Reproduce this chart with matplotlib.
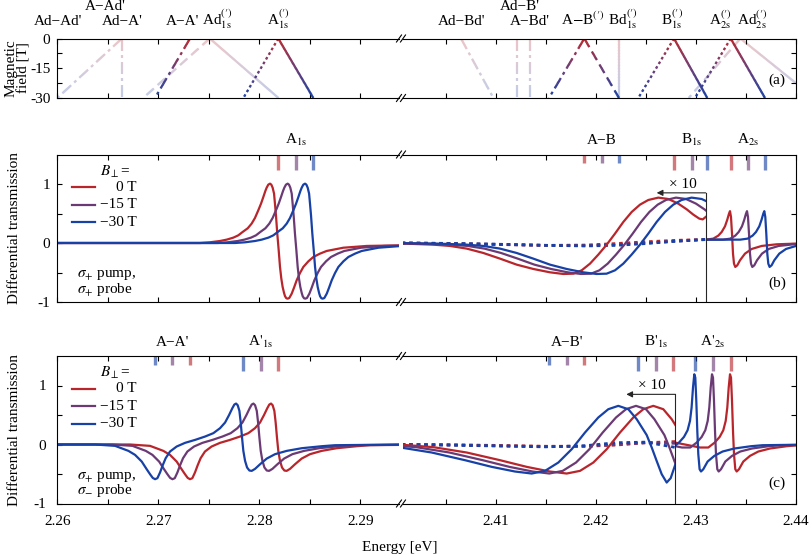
import numpy as np
import matplotlib
matplotlib.use("Agg")
from matplotlib import pyplot as plt
from matplotlib import rcParams
from matplotlib.collections import LineCollection
from matplotlib.patches import Rectangle
from matplotlib.lines import Line2D
from matplotlib.colors import to_rgb

rcParams['font.family'] = ['Liberation Serif', 'DejaVu Serif']
rcParams['mathtext.fontset'] = 'stix'
rcParams['axes.unicode_minus'] = False
rcParams['font.size'] = 11
rcParams['xtick.direction'] = 'in'
rcParams['ytick.direction'] = 'in'
rcParams['xtick.major.size'] = 3.5
rcParams['ytick.major.size'] = 3.5
rcParams['xtick.major.width'] = 0.8
rcParams['ytick.major.width'] = 0.8
rcParams['axes.linewidth'] = 0.8

# ---------------- data ----------------
fields = ['0 T', '\u221215 T', '\u221230 T']
colours = ['#b8262c', '#6b3a75', '#1741a6']      # 0 T, -15 T, -30 T

# panel (a): transition energy at 0 T and at -30 T
a_left_e0 = [2.2664, 2.2664, 2.27314, 2.2751, 2.2751, 2.28188, 2.28188]
a_left_e30 = [2.2600, 2.2664, 2.26967, 2.2685, 2.2819, 2.28535, 2.27842]
a_left_style = ['dashdot', 'dashdot', 'dashdot', 'dashed', 'solid', 'solid', 'dotted']
a_left_faint = [True, True, False, True, True, False, False]
a_right_e0 = [2.40653, 2.4121, 2.41343, 2.41886, 2.41886, 2.4223, 2.42783, 2.42783, 2.4335, 2.4335, 2.43447, 2.43447]
a_right_e30 = [2.40977, 2.4121, 2.41343, 2.41533, 2.42233, 2.4223, 2.43116, 2.42426, 2.43693, 2.42993, 2.44187, 2.4293]
a_right_style = ['dashdot', 'dashdot', 'dashdot', 'dashdot', 'dashed', 'solid', 'solid', 'dotted', 'solid', 'dotted', 'solid', 'dashed']
a_right_faint = [True, True, True, False, False, True, False, False, False, False, True, True]

a_left_labels = ["Ad\u2212Ad'", "A\u2212Ad'", "Ad\u2212A'", "A\u2212A'",
                 r"Ad$_{\mathrm{1s}}^{(\prime)}$", r"A$_{\mathrm{1s}}^{(\prime)}$"]
a_left_label_e = [2.2601, 2.26477, 2.26646, 2.27235, 2.27589, 2.28188]
a_left_label_row = [0, 1, 0, 0, 0, 0]
a_right_labels = ["Ad\u2212Bd'", "Ad\u2212B'", "A\u2212Bd'", r"A$-$B$^{(\prime)}$",
                  r"Bd$_{\mathrm{1s}}^{(\prime)}$", r"B$_{\mathrm{1s}}^{(\prime)}$",
                  r"A$_{\mathrm{2s}}^{(\prime)}$", r"Ad$_{\mathrm{2s}}^{(\prime)}$"]
a_right_label_e = [2.40663, 2.41243, 2.41343, 2.41871, 2.42271, 2.42768, 2.43243, 2.43568]
a_right_label_row = [0, 1, 0, 0, 0, 0, 0, 0]

# panel (b): resonance markers (0 T, -15 T, -30 T)
b_a1s_mark = [2.28188, 2.28363, 2.28535]
b_ab_mark = [2.41886, 2.42060, 2.42233]
b_b1s_mark = [2.42783, 2.42960, 2.43116]
b_a2s_mark = [2.43350, 2.43520, 2.43693]
b_cut = 2.4310

# line shapes: energy offset from the marker, differential transmission
b_a1s_off = [-0.030, -0.00775, -0.00676, -0.00577, -0.00511, -0.00445, -0.00396, -0.00353, -0.00303, -0.00264,
             -0.00231, -0.00198, -0.00171, -0.00148, -0.00128, -0.00115, -0.00099, -0.00082, -0.00069, -0.00056,
             -0.00042, -0.00033, -0.00023, -0.0001, 0.00004, 0.00017, 0.0003, 0.00043, 0.00057, 0.00067,
             0.0008, 0.00093, 0.00109, 0.00133, 0.00156, 0.00182, 0.00215, 0.00248, 0.00298, 0.00347,
             0.00413, 0.00479, 0.00644, 0.00875, 0.0121, 0.016]
b_a1s_val = [0.0, 0.0, 0.012, 0.034, 0.057, 0.091, 0.13, 0.187, 0.249, 0.328,
             0.424, 0.554, 0.667, 0.78, 0.882, 0.938, 0.989, 1.006, 0.989, 0.938,
             0.837, 0.667, 0.469, 0.159, -0.124, -0.406, -0.604, -0.745, -0.847, -0.903,
             -0.937, -0.943, -0.932, -0.858, -0.756, -0.632, -0.508, -0.406, -0.31, -0.237,
             -0.18, -0.135, -0.08, -0.05, -0.04, -0.035]
b_b1s_off = [-0.032, -0.02707, -0.02407, -0.0224, -0.02073, -0.01907, -0.0174, -0.01573, -0.01407, -0.0124,
             -0.01107, -0.01007, -0.00923, -0.0084, -0.00757, -0.00673, -0.0059, -0.00507, -0.00423, -0.0034,
             -0.00257, -0.00157, -0.00057, 0.00043, 0.00127, 0.00193, 0.00253, 0.00287, 0.00317]
b_b1s_val = [0.0, -0.01, -0.028, -0.05, -0.095, -0.169, -0.265, -0.367, -0.44, -0.497,
             -0.525, -0.52, -0.463, -0.35, -0.197, -0.028, 0.159, 0.356, 0.526, 0.65,
             0.729, 0.769, 0.746, 0.667, 0.571, 0.481, 0.413, 0.40, 0.441]
b_a2s_off = [-0.006, -0.00247, -0.00174, -0.00124, -0.0009, -0.00057, -0.00034, -0.00017, -0.00007, 0.00003,
             0.00013, 0.00023, 0.00033, 0.00046, 0.00066, 0.00093, 0.00143, 0.0021, 0.0031, 0.0046, 0.0066]
b_a2s_val = [0.057, 0.057, 0.074, 0.125, 0.187, 0.283, 0.396, 0.498, 0.54, 0.441,
             0.159, -0.18, -0.35, -0.406, -0.378, -0.293, -0.18, -0.101, -0.05, -0.022, -0.01]
b_dot_e = [2.4006, 2.405, 2.410, 2.415, 2.419, 2.422, 2.425, 2.428, 2.431]
b_dot_vals = [[0.0, -0.01, -0.025, -0.04, -0.035, -0.01, 0.02, 0.045, 0.06],
              [0.0, -0.008, -0.022, -0.04, -0.045, -0.03, 0.0, 0.03, 0.058],
              [0.0, -0.006, -0.02, -0.04, -0.05, -0.04, -0.01, 0.03, 0.06]]

# panel (c)
c_aa_mark = [2.27314, 2.27139, 2.26967]
c_a1s_mark = [2.28188, 2.28014, 2.27842]
c_ab_mark = [2.41883, 2.41710, 2.41533]
c_b1s_mark = [2.42776, 2.42603, 2.42426]
c_a2s_mark = [2.43350, 2.43170, 2.42993]
c_cut = 2.42796

c_a1s_off = [-0.030, -0.01468, -0.0127, -0.01138, -0.01072, -0.01006, -0.00957, -0.00924, -0.00897, -0.00874,
             -0.00851, -0.00825, -0.00798, -0.00769, -0.00726, -0.0066, -0.00577, -0.00478, -0.00379, -0.00297,
             -0.00231, -0.00181, -0.00142, -0.00109, -0.00089, -0.00072, -0.00056, -0.00039, -0.00026, -0.00013,
             0.0, 0.00017, 0.00037, 0.0006, 0.00083, 0.00116, 0.00166, 0.00232, 0.00314, 0.0043,
             0.00578, 0.00776, 0.00908, 0.016]
c_a1s_val = [0.0, 0.0, -0.023, -0.108, -0.176, -0.289, -0.419, -0.503, -0.566, -0.588,
             -0.571, -0.475, -0.351, -0.232, -0.119, -0.034, 0.028, 0.078, 0.135, 0.192,
             0.276, 0.372, 0.497, 0.615, 0.677, 0.694, 0.666, 0.57, 0.372, 0.118,
             -0.108, -0.277, -0.39, -0.441, -0.447, -0.413, -0.334, -0.238, -0.164, -0.108,
             -0.063, -0.029, -0.012, 0.0]
c_b1s_off = [-0.032, -0.027, -0.024, -0.02066, -0.01733, -0.01466, -0.01233, -0.01066, -0.00933, -0.008,
             -0.00666, -0.00533, -0.004, -0.003, -0.002, -0.001, -0.00016, 0.00017, 0.00084, 0.00134,
             0.00184, 0.00234, 0.00284, 0.00324, 0.0037]
c_b1s_val = [0.0, -0.006, -0.045, -0.136, -0.266, -0.379, -0.458, -0.492, -0.447, -0.306,
             -0.08, 0.203, 0.458, 0.598, 0.655, 0.598, 0.429, 0.34, 0.16, -0.05,
             -0.28, -0.503, -0.645, -0.57, -0.34]
c_a2s_off = [-0.008, -0.00557, -0.0044, -0.00307, -0.00224, -0.0016, -0.0011, -0.00074, -0.0005, -0.00034,
             -0.0002, -0.00007, 0.00003, 0.00013, 0.00023, 0.00033, 0.00046, 0.0006, 0.00083, 0.00126,
             0.00193, 0.00276, 0.00393, 0.0056, 0.00676, 0.012]
c_a2s_val = [0.033, 0.033, -0.006, -0.051, -0.051, 0.033, 0.129, 0.242, 0.40, 0.627,
             0.966, 1.19, 1.135, 0.74, 0.231, -0.164, -0.419, -0.458, -0.419, -0.289,
             -0.193, -0.119, -0.068, -0.029, -0.012, 0.0]
c_dot_e = [2.4006, 2.405, 2.410, 2.415, 2.419, 2.422, 2.425, 2.428]
c_dot_vals = [[0.0, -0.005, -0.015, -0.03, -0.03, -0.01, 0.03, 0.05],
              [0.0, -0.005, -0.02, -0.035, -0.03, 0.0, 0.03, 0.02],
              [0.0, -0.01, -0.025, -0.04, -0.02, 0.03, 0.04, -0.05]]

# ---------------- layout (pixels) ----------------
W, H = 809, 555
XL0, XL1, XR0, XR1 = 57.3, 398.5, 402.5, 795.7
E_LEFT = (2.26, 2.293782)
E_RIGHT = (2.40068, 2.44)

fig = plt.figure(figsize=(W / 100, H / 100), dpi=100)


def make_row(ytop, ybot, ylim):
    axl = fig.add_axes([XL0 / W, 1 - ybot / H, (XL1 - XL0) / W, (ybot - ytop) / H])
    axr = fig.add_axes([XR0 / W, 1 - ybot / H, (XR1 - XR0) / W, (ybot - ytop) / H])
    axl.set_xlim(*E_LEFT)
    axr.set_xlim(*E_RIGHT)
    for ax in (axl, axr):
        ax.set_ylim(*ylim)
        ax.patch.set_alpha(0)
    axl.spines['right'].set_visible(False)
    axr.spines['left'].set_visible(False)
    axl.tick_params(top=True, right=False, labelbottom=False, pad=5)
    axr.tick_params(top=True, right=True, left=False, labelleft=False, labelbottom=False)
    axl.set_xticks(np.round(np.arange(2.26, 2.2931, 0.005), 3))
    axr.set_xticks(np.round(np.arange(2.405, 2.4401, 0.005), 3))
    # break marks
    for y in (ytop, ybot):
        for cx in (399.0, 403.0):
            fig.add_artist(Line2D([(cx - 2.5) / W, (cx + 2.5) / W], [1 - (y + 3.5) / H, 1 - (y - 3.5) / H],
                                  color='k', lw=0.8, transform=fig.transFigure))
    return axl, axr


def field_colour(t, faint):
    rgb = [np.array(to_rgb(c)) for c in colours]
    if t <= 0.5:
        c = rgb[0] + (rgb[1] - rgb[0]) * t / 0.5
    else:
        c = rgb[1] + (rgb[2] - rgb[1]) * (t - 0.5) / 0.5
    if faint:
        c = c * 0.27 + 0.73
    return tuple(np.clip(c, 0, 1))


DASHES = {'solid': None, 'dotted': [2.7, 2.7], 'dashed': [10, 5], 'dashdot': [12, 4, 3, 4]}


def field_line(ax, e0, e30, style, faint):
    # straight line from (e0, 0 T) to (e30, -30 T), coloured by field
    p0 = ax.transData.transform((e0, 0))
    p1 = ax.transData.transform((e30, -30))
    length = np.hypot(*(p1 - p0))
    pattern = DASHES[style]
    pieces = []
    if pattern is None:
        pieces.append((0.0, length))
    else:
        s, i = 0.0, 0
        while s < length:
            step = pattern[i % len(pattern)]
            if i % 2 == 0:
                pieces.append((s, min(s + step, length)))
            s += step
            i += 1
    segs, cols = [], []
    for a, b in pieces:
        n = max(1, int(np.ceil((b - a) / 1.5)))
        edges = np.linspace(a, b, n + 1)
        for u, v in zip(edges[:-1], edges[1:]):
            t0, t1 = u / length, min(v + 0.4, b) / length
            segs.append([(e0 + (e30 - e0) * t0, -30 * t0), (e0 + (e30 - e0) * t1, -30 * t1)])
            cols.append(field_colour(0.5 * (t0 + t1), faint))
    ax.add_collection(LineCollection(segs, colors=cols, linewidths=1.6, capstyle='butt', zorder=1 if faint else 2))


# ---------------- panel (a) ----------------
axl, axr = make_row(38.5, 98.0, (-30, 0))
for ax in (axl, axr):
    ax.set_yticks([-30, -22.5, -15, -7.5, 0])
axl.set_yticklabels(['-30', '', '-15', '', '0'])
for e0, e30, st, fa in zip(a_left_e0, a_left_e30, a_left_style, a_left_faint):
    field_line(axl, e0, e30, st, fa)
for e0, e30, st, fa in zip(a_right_e0, a_right_e30, a_right_style, a_right_faint):
    field_line(axr, e0, e30, st, fa)
for ax, labs, es, rows in ((axl, a_left_labels, a_left_label_e, a_left_label_row),
                           (axr, a_right_labels, a_right_label_e, a_right_label_row)):
    for lab, e, r in zip(labs, es, rows):
        ax.text(e, 1.227 if r == 0 else 1.487, lab, transform=ax.get_xaxis_transform(),
                ha='center', va='baseline', fontsize=11, clip_on=False)
axr.text(0.952, 0.30, '(a)', transform=axr.transAxes, ha='center', va='center', fontsize=11)
fig.text(17.5 / W, 1 - 68 / H, 'Magnetic\nfield [T]', rotation=90, ha='center', va='center',
         multialignment='center', linespacing=1.05, fontsize=11)


# ---------------- helpers for (b), (c) ----------------
def spectrum(ax, marks, off, val, clip=None):
    for e0, c in zip(marks, colours):
        line, = ax.plot(e0 + np.array(off), val, color=c, lw=1.6, solid_joinstyle='round')
        if clip is not None:
            line.set_clip_path(clip)


def bars(ax, marks, short):
    for e0, c in zip(marks, colours):
        ax.plot([e0, e0], [1, 0.942 if short else 0.898], transform=ax.get_xaxis_transform(),
                color=c, alpha=0.62, lw=2.4, solid_capstyle='butt')


def legend_and_pol(ax, probe):
    ax.text(0.125, 0.883, r'$B_{\perp}$=', transform=ax.transAxes, ha='left', va='center', fontsize=11)
    for k, (lab, c) in enumerate(zip(fields, colours)):
        y = 0.778 - 0.119 * k
        ax.plot([0.042, 0.11], [y, y], transform=ax.transAxes, color=c, lw=1.6)
        ax.text(0.233, y, lab, transform=ax.transAxes, ha='right', va='center', fontsize=11)
    ax.text(0.058, 0.18, r'$\sigma_{+}$ pump,', transform=ax.transAxes, ha='left', va='center', fontsize=11)
    ax.text(0.058, 0.085, probe, transform=ax.transAxes, ha='left', va='center', fontsize=11)


def spectra_row(ytop, ybot, lab_left, lab_right):
    axl, axr = make_row(ytop, ybot, (-1, 1.5))
    for ax in (axl, axr):
        ax.set_yticks([-1, -0.5, 0, 0.5, 1])
    axl.set_yticklabels(['-1', '', '0', '', '1'])
    for ax, labs in ((axl, lab_left), (axr, lab_right)):
        for e, lab in labs:
            ax.text(e, 1.07, lab, transform=ax.get_xaxis_transform(), ha='center', va='baseline',
                    fontsize=11, clip_on=False)
    return axl, axr


def cut_marker(ax, cut):
    ax.plot([cut, cut], [0.85, -1], color='0.15', lw=0.8)
    ax.annotate('', xy=(cut - 0.0049, 0.85), xytext=(cut, 0.85),
                arrowprops=dict(arrowstyle='-|>', color='0.15', lw=0.8, mutation_scale=9,
                                shrinkA=0, shrinkB=0))
    ax.text(cut - 0.0023, 1.0, '\u00d7 10', ha='center', va='center', fontsize=11)


# ---------------- panel (b) ----------------
axl, axr = spectra_row(154.5, 302.0,
                       [(b_a1s_mark[1], r'A$_{\mathrm{1s}}$')],
                       [(b_ab_mark[1], 'A\u2212B'), (b_b1s_mark[1], r'B$_{\mathrm{1s}}$'),
                        (b_a2s_mark[1], r'A$_{\mathrm{2s}}$')])
bars(axl, b_a1s_mark, False)
bars(axr, b_ab_mark, True)
bars(axr, b_b1s_mark, False)
bars(axr, b_a2s_mark, False)
spectrum(axl, b_a1s_mark, b_a1s_off, b_a1s_val)
clip_lo = Rectangle((E_RIGHT[0], -1.5), b_cut - E_RIGHT[0], 3.5, transform=axr.transData)
clip_hi = Rectangle((b_cut, -1.5), E_RIGHT[1] - b_cut, 3.5, transform=axr.transData)
for vals, c in zip(b_dot_vals, colours):
    ln, = axr.plot(b_dot_e, vals, color=c, lw=2.0, linestyle=(0, (1.3, 1.4)), dash_capstyle='butt')
    ln.set_clip_path(clip_lo)
spectrum(axr, b_b1s_mark, b_b1s_off, b_b1s_val, clip_lo)
spectrum(axr, b_a2s_mark, b_a2s_off, b_a2s_val, clip_hi)
cut_marker(axr, b_cut)
legend_and_pol(axl, r'$\sigma_{+}$ probe')
axr.text(0.952, 0.127, '(b)', transform=axr.transAxes, ha='center', va='center', fontsize=11)
fig.text(15 / W, 1 - 228 / H, 'Differential transmission', rotation=90, ha='center', va='center', fontsize=11)

# ---------------- panel (c) ----------------
axl, axr = spectra_row(356.0, 503.5,
                       [(c_aa_mark[1], "A\u2212A'"), (c_a1s_mark[1], r"A$'_{\mathrm{1s}}$")],
                       [(c_ab_mark[1], "A\u2212B'"), (c_b1s_mark[1], r"B$'_{\mathrm{1s}}$"),
                        (c_a2s_mark[1], r"A$'_{\mathrm{2s}}$")])
bars(axl, c_aa_mark, True)
bars(axl, c_a1s_mark, False)
bars(axr, c_ab_mark, True)
bars(axr, c_b1s_mark, False)
bars(axr, c_a2s_mark, False)
spectrum(axl, c_a1s_mark, c_a1s_off, c_a1s_val)
clip_lo = Rectangle((E_RIGHT[0], -1.5), c_cut - E_RIGHT[0], 3.5, transform=axr.transData)
clip_hi = Rectangle((c_cut, -1.5), E_RIGHT[1] - c_cut, 3.5, transform=axr.transData)
for vals, c in zip(c_dot_vals, colours):
    ln, = axr.plot(c_dot_e, vals, color=c, lw=2.0, linestyle=(0, (1.3, 1.4)), dash_capstyle='butt')
    ln.set_clip_path(clip_lo)
spectrum(axr, c_b1s_mark, c_b1s_off, c_b1s_val, clip_lo)
spectrum(axr, c_a2s_mark, c_a2s_off, c_a2s_val, clip_hi)
cut_marker(axr, c_cut)
legend_and_pol(axl, r'$\sigma_{-}$ probe')
axr.text(0.952, 0.137, '(c)', transform=axr.transAxes, ha='center', va='center', fontsize=11)
fig.text(15 / W, 1 - 430 / H, 'Differential transmission', rotation=90, ha='center', va='center', fontsize=11)

axl.tick_params(labelbottom=True, pad=8)
axr.tick_params(labelbottom=True, pad=8)
axl.set_xticklabels(['2.26', '', '2.27', '', '2.28', '', '2.29'])
axr.set_xticklabels(['', '2.41', '', '2.42', '', '2.43', '', '2.44'])
fig.text(400 / W, 1 - 547 / H, 'Energy [eV]', ha='center', va='center', fontsize=11)

fig.savefig('out.png', dpi=100)
